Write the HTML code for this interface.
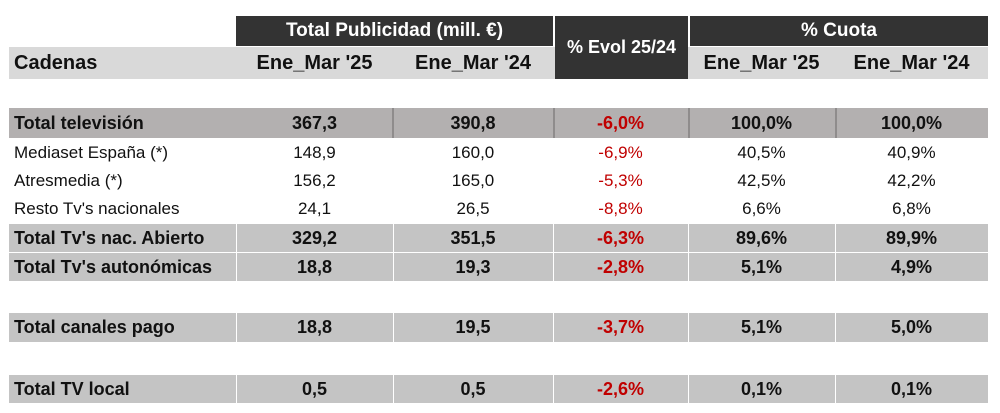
<!DOCTYPE html>
<html><head><meta charset="utf-8"><style>
body{margin:0;width:1000px;height:413px;background:#fff;font-family:"Liberation Sans",sans-serif;position:relative;overflow:hidden}
.b{position:absolute;box-sizing:border-box}
.t{position:absolute;display:flex;align-items:center;justify-content:center;box-sizing:border-box;white-space:nowrap}
.l{justify-content:flex-start;padding-left:5px}
</style></head><body>
<div class="t" style="left:236px;top:16px;width:317px;height:30px;background:#333;color:#fff;font-weight:bold;font-size:19px">Total Publicidad (mill. €)</div>
<div class="t" style="left:690px;top:16px;width:298px;height:30px;background:#333;color:#fff;font-weight:bold;font-size:19px">% Cuota</div>
<div class="b" style="left:9px;top:47px;width:979px;height:32px;background:#d9d9d9"></div>
<div class="t" style="left:555px;top:16px;width:133px;height:63px;background:#333;color:#fff;font-weight:bold;font-size:18px">% Evol 25/24</div>
<div class="t l" style="left:9px;top:47px;width:227px;height:32px;font-weight:bold;font-size:20px;color:#111">Cadenas</div>
<div class="t" style="left:236px;top:47px;width:157px;height:32px;font-weight:bold;font-size:20px;color:#111">Ene_Mar '25</div>
<div class="t" style="left:393px;top:47px;width:160px;height:32px;font-weight:bold;font-size:20px;color:#111">Ene_Mar '24</div>
<div class="t" style="left:688px;top:47px;width:147px;height:32px;font-weight:bold;font-size:20px;color:#111">Ene_Mar '25</div>
<div class="t" style="left:835px;top:47px;width:153px;height:32px;font-weight:bold;font-size:20px;color:#111">Ene_Mar '24</div>

<div class="b" style="left:9px;top:108px;width:979px;height:30px;background:#b3b0b0"></div>
<div class="b" style="left:392px;top:108px;width:2px;height:30px;background:#8f8c8c"></div>
<div class="b" style="left:553px;top:108px;width:2px;height:30px;background:#8f8c8c"></div>
<div class="b" style="left:688px;top:108px;width:2px;height:30px;background:#8f8c8c"></div>
<div class="b" style="left:835px;top:108px;width:2px;height:30px;background:#8f8c8c"></div>

<div id="rows"></div>
<script>
var R=[
[108,30,1,"Total televisión","367,3","390,8","-6,0%","100,0%","100,0%"],
[139,28,0,"Mediaset España (*)","148,9","160,0","-6,9%","40,5%","40,9%"],
[167,28,0,"Atresmedia (*)","156,2","165,0","-5,3%","42,5%","42,2%"],
[195,28,0,"Resto Tv's nacionales","24,1","26,5","-8,8%","6,6%","6,8%"],
[224,28,2,"Total Tv's nac. Abierto","329,2","351,5","-6,3%","89,6%","89,9%"],
[253,28,2,"Total Tv's autonómicas","18,8","19,3","-2,8%","5,1%","4,9%"],
[313,29,2,"Total canales pago","18,8","19,5","-3,7%","5,1%","5,0%"],
[375,28,2,"Total TV local","0,5","0,5","-2,6%","0,1%","0,1%"]];
var C=[[9,227],[236,157],[393,160],[553,135],[688,147],[835,153]];
var h="";
R.forEach(function(r){
 if(r[2]==2){C.forEach(function(c,i){h+='<div class="b" style="left:'+(c[0]+(i?1:0))+'px;top:'+r[0]+'px;width:'+(c[1]-(i?1:0))+'px;height:'+r[1]+'px;background:#c4c4c4"></div>';});}
 var bold=r[2]?"bold":"normal";
 for(var i=0;i<6;i++){
  var c=C[i];var fs=r[2]?18:17;
  h+='<div class="t'+(i==0?' l':'')+'" style="left:'+c[0]+'px;top:'+r[0]+'px;width:'+c[1]+'px;height:'+r[1]+'px;font-weight:'+bold+';font-size:'+fs+'px;color:'+(i==3?'#c00000':'#111')+'">'+r[3+i]+'</div>';
 }
});
document.getElementById("rows").innerHTML=h;
</script>
</body></html>
